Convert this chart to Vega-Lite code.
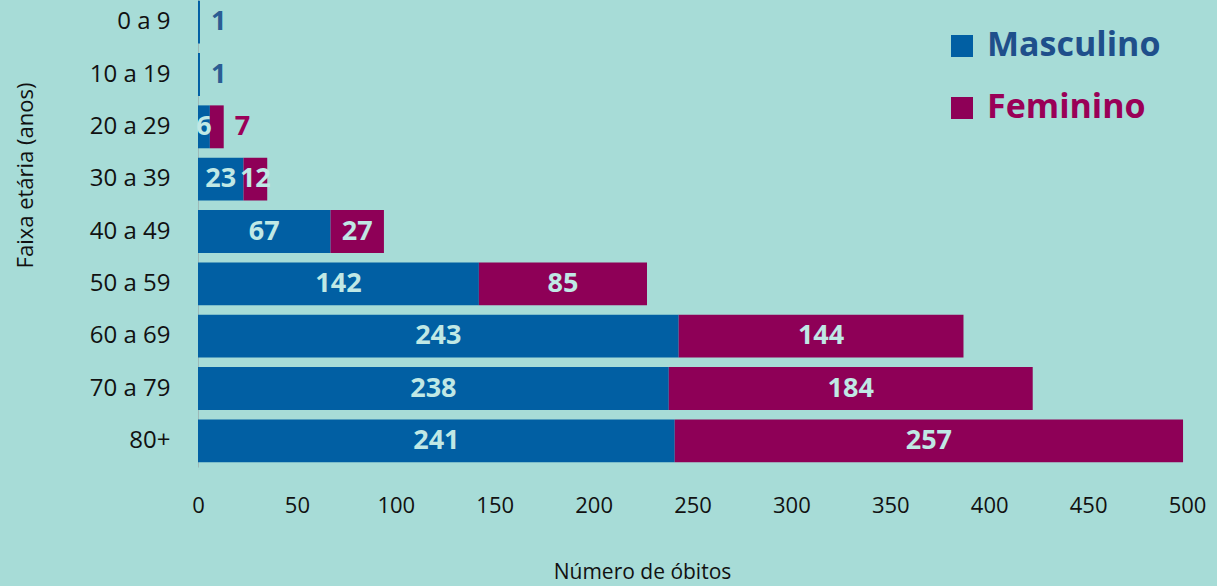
{
 "$schema": "https://vega.github.io/schema/vega-lite/v6.json",
 "width": 989,
 "height": 471,
 "autosize": {"type": "none"},
 "padding": {"left": 198, "top": -4, "right": 30, "bottom": 119},
 "background": "#a7dcd7",
 "config": {"view": {"stroke": null}, "font": "Open Sans"},
 "data": {"values": [
  {"faixa": "0 a 9", "sexo": "Masculino", "n": 1},
  {"faixa": "10 a 19", "sexo": "Masculino", "n": 1},
  {"faixa": "20 a 29", "sexo": "Masculino", "n": 6},
  {"faixa": "20 a 29", "sexo": "Feminino", "n": 7},
  {"faixa": "30 a 39", "sexo": "Masculino", "n": 23},
  {"faixa": "30 a 39", "sexo": "Feminino", "n": 12},
  {"faixa": "40 a 49", "sexo": "Masculino", "n": 67},
  {"faixa": "40 a 49", "sexo": "Feminino", "n": 27},
  {"faixa": "50 a 59", "sexo": "Masculino", "n": 142},
  {"faixa": "50 a 59", "sexo": "Feminino", "n": 85},
  {"faixa": "60 a 69", "sexo": "Masculino", "n": 243},
  {"faixa": "60 a 69", "sexo": "Feminino", "n": 144},
  {"faixa": "70 a 79", "sexo": "Masculino", "n": 238},
  {"faixa": "70 a 79", "sexo": "Feminino", "n": 184},
  {"faixa": "80+", "sexo": "Masculino", "n": 241},
  {"faixa": "80+", "sexo": "Feminino", "n": 257}
 ]},
 "transform": [
  {"stack": "n", "groupby": ["faixa"], "sort": [{"field": "sexo", "order": "descending"}], "as": ["x0", "x1"]},
  {"calculate": "(datum.x0 + datum.x1) / 2", "as": "mid"}
 ],
 "encoding": {
  "y": {
   "field": "faixa", "type": "nominal",
   "sort": ["0 a 9", "10 a 19", "20 a 29", "30 a 39", "40 a 49", "50 a 59", "60 a 69", "70 a 79", "80+"],
   "scale": {"paddingInner": 0.18, "paddingOuter": 0.09},
   "axis": {
    "title": "Faixa etária (anos)", "ticks": false, "grid": false,
    "domainColor": "#9db9b8", "domainWidth": 1,
    "labelFontSize": 24, "labelColor": "#111111", "labelPadding": 28,
    "titleFontSize": 22, "titleFontWeight": "normal", "titleColor": "#111111",
    "titleX": -173, "titleY": 179, "titleAlign": "center", "titleBaseline": "middle"
   }
  }
 },
 "layer": [
  {
   "mark": {"type": "bar"},
   "encoding": {
    "x": {
     "field": "x0", "type": "quantitative",
     "scale": {"domain": [0, 500], "nice": false},
     "axis": {
      "values": [0, 50, 100, 150, 200, 250, 300, 350, 400, 450, 500],
      "domain": false, "ticks": false, "grid": false, "labelFlush": false,
      "labelFontSize": 22, "labelColor": "#111111", "labelPadding": 28,
      "title": "Número de óbitos", "titleFontSize": 21, "titleFontWeight": "normal",
      "titleColor": "#111111", "titleX": 444, "titleY": 105, "titleBaseline": "middle"
     }
    },
    "x2": {"field": "x1"},
    "color": {
     "field": "sexo", "type": "nominal",
     "scale": {"domain": ["Masculino", "Feminino"], "range": ["#015fa3", "#8e0057"]},
     "legend": {
      "orient": "none", "legendX": 747, "legendY": 33, "title": null,
      "symbolType": "square", "symbolSize": 484, "symbolStrokeWidth": 0, "symbolOpacity": 1,
      "labelFontSize": 34, "labelFontWeight": "bold", "labelOffset": 8, "rowPadding": 28,
      "labelLimit": 400, "labelFont": "Open Sans",
      "encode": {"labels": {"update": {"fill": {"signal": "datum.label === 'Masculino' ? '#1f4f8b' : '#9a0057'"}}}}
     }
    }
   }
  },
  {
   "transform": [{"filter": "datum.n >= 10 || datum.n == 6"}],
   "mark": {"type": "text", "fontWeight": "bold", "fontSize": 27, "color": "#c0e8e5", "align": "center", "baseline": "middle"},
   "encoding": {
    "x": {"field": "mid", "type": "quantitative"},
    "text": {"field": "n", "type": "quantitative"}
   }
  },
  {
   "transform": [{"filter": "datum.n < 10 && datum.n != 6"}],
   "mark": {"type": "text", "fontWeight": "bold", "fontSize": 27, "align": "left", "baseline": "middle", "dx": 11},
   "encoding": {
    "x": {"field": "x1", "type": "quantitative"},
    "text": {"field": "n", "type": "quantitative"},
    "color": {"condition": {"test": "datum.sexo == 'Masculino'", "value": "#2b5d93"}, "value": "#9b0058"}
   }
  }
 ]
}
